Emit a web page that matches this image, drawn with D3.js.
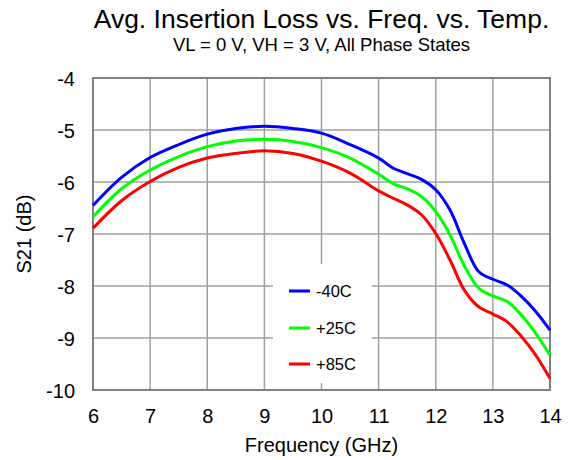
<!DOCTYPE html>
<html>
<head>
<meta charset="utf-8">
<script src="https://cdn.jsdelivr.net/npm/d3@7"></script>
<style>
  body { margin: 0; background: #fff; }
  svg text { font-family: Arial, "Liberation Sans", sans-serif; fill: #000; }
</style>
</head>
<body>
<div id="chart"></div>
<script>
var freq = [6, 6.5, 7, 7.5, 8, 8.5, 9, 9.5, 10, 10.5, 11, 11.25, 11.5, 11.75, 12, 12.25, 12.5, 12.75, 13, 13.25, 13.5, 13.75, 14];
var lossM40 = [-6.45, -5.91, -5.53, -5.28, -5.08, -4.97, -4.93, -4.97, -5.06, -5.28, -5.54, -5.73, -5.84, -5.95, -6.15, -6.54, -7.18, -7.72, -7.87, -7.98, -8.2, -8.49, -8.85];
var lossP25 = [-6.67, -6.13, -5.77, -5.51, -5.32, -5.21, -5.18, -5.22, -5.34, -5.54, -5.85, -6.03, -6.13, -6.28, -6.57, -7.02, -7.61, -8.04, -8.19, -8.3, -8.56, -8.91, -9.33];
var lossP85 = [-6.89, -6.36, -5.99, -5.72, -5.54, -5.45, -5.4, -5.45, -5.6, -5.83, -6.17, -6.31, -6.44, -6.63, -6.99, -7.5, -8.08, -8.4, -8.54, -8.69, -8.97, -9.33, -9.78];
var seriesNames = ["-40C", "+25C", "+85C"];
var seriesColors = ["#0000ff", "#00ff00", "#ff0000"];
var xTicks = [6, 7, 8, 9, 10, 11, 12, 13, 14];
var yTicks = [-4, -5, -6, -7, -8, -9, -10];

var width = 574, height = 460;
var margin = {top: 78, right: 24, bottom: 70, left: 93};

var svg = d3.select("#chart").append("svg")
    .attr("width", width)
    .attr("height", height);

var x = d3.scaleLinear().domain([6, 14]).range([margin.left, width - margin.right]);
var y = d3.scaleLinear().domain([-10, -4]).range([height - margin.bottom, margin.top]);

// grid
svg.append("g").selectAll("line.vx")
  .data(xTicks).enter().append("line")
  .attr("x1", d => x(d)).attr("x2", d => x(d))
  .attr("y1", y(-4)).attr("y2", y(-10))
  .attr("stroke", "#a0a0a0").attr("stroke-width", 1.5);
svg.append("g").selectAll("line.hy")
  .data(yTicks).enter().append("line")
  .attr("x1", x(6)).attr("x2", x(14))
  .attr("y1", d => y(d)).attr("y2", d => y(d))
  .attr("stroke", "#a0a0a0").attr("stroke-width", 1.5);

// legend box (under the curves, hides the grid)
svg.append("rect")
  .attr("x", 273).attr("y", 264).attr("width", 99).attr("height", 119)
  .attr("fill", "#fff");

// border
svg.append("rect")
  .attr("x", x(6)).attr("y", y(-4))
  .attr("width", x(14) - x(6)).attr("height", y(-10) - y(-4))
  .attr("fill", "none").attr("stroke", "#808080").attr("stroke-width", 2);

// axes labels
var xAxis = d3.axisBottom(x).tickValues(xTicks).tickSize(0).tickPadding(0)
  .tickFormat(d => String(d));
var gx = svg.append("g")
  .attr("transform", "translate(0," + y(-10) + ")")
  .call(xAxis);
gx.select(".domain").remove();
gx.selectAll("text").attr("font-size", 20).attr("dy", 0).attr("y", 33);

var yAxis = d3.axisLeft(y).tickValues(yTicks).tickSize(0).tickPadding(0)
  .tickFormat(d => String(d));
var gy = svg.append("g")
  .attr("transform", "translate(" + (x(6) - 18) + ",0)")
  .call(yAxis);
gy.select(".domain").remove();
gy.selectAll("text").attr("font-size", 20).attr("dy", "0.35em");

// curves
var allSeries = [lossM40, lossP25, lossP85];
var line = d3.line()
  .x((d, i) => x(freq[i]))
  .y(d => y(d))
  .curve(d3.curveCatmullRom.alpha(0.5));

allSeries.forEach(function(s, i) {
  svg.append("path")
    .datum(s)
    .attr("d", line)
    .attr("fill", "none")
    .attr("stroke", seriesColors[i])
    .attr("stroke-width", 3);
});

// legend
var legY = [291, 328, 364];
seriesNames.forEach(function(n, i) {
  svg.append("line")
    .attr("x1", 289).attr("x2", 310)
    .attr("y1", legY[i]).attr("y2", legY[i])
    .attr("stroke", seriesColors[i]).attr("stroke-width", 3);
  svg.append("text")
    .attr("x", 316).attr("y", legY[i])
    .attr("dy", "0.35em")
    .attr("font-size", 16.5)
    .text(n);
});

// titles
var cx = (x(6) + x(14)) / 2;
svg.append("text")
  .attr("x", cx).attr("y", 28)
  .attr("text-anchor", "middle")
  .attr("font-size", 26.5)
  .text("Avg. Insertion Loss vs. Freq. vs. Temp.");
svg.append("text")
  .attr("x", cx).attr("y", 51)
  .attr("text-anchor", "middle")
  .attr("font-size", 18.5)
  .text("VL = 0 V, VH = 3 V, All Phase States");
svg.append("text")
  .attr("x", cx).attr("y", 452)
  .attr("text-anchor", "middle")
  .attr("font-size", 20)
  .text("Frequency (GHz)");
svg.append("text")
  .attr("transform", "translate(31," + ((y(-4) + y(-10)) / 2) + ") rotate(-90)")
  .attr("text-anchor", "middle")
  .attr("font-size", 20)
  .text("S21 (dB)");
</script>
</body>
</html>
